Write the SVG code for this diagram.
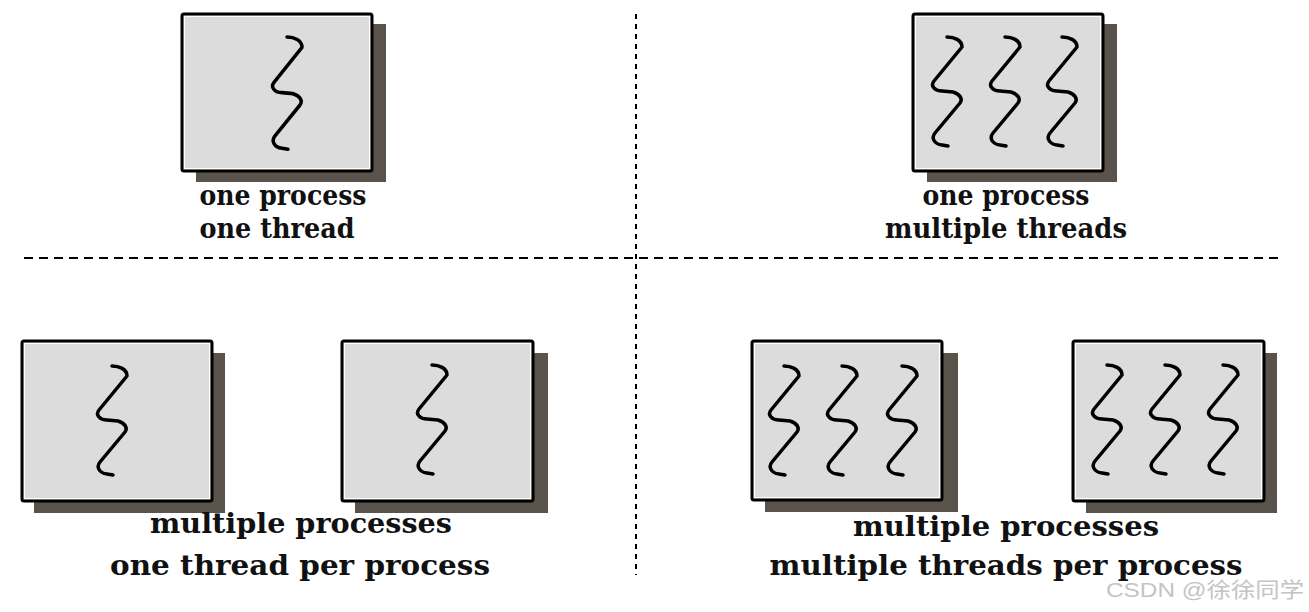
<svg xmlns="http://www.w3.org/2000/svg" xmlns:xlink="http://www.w3.org/1999/xlink" width="1309" height="612" viewBox="0 0 1309 612">
<style>
.shadow{fill:#5a534b}
.box{fill:#dcdcdc;stroke:#000;stroke-width:3}
.inner{fill:none;stroke:#fff;stroke-width:1}
.thr{fill:none;stroke:#000;stroke-width:3.5;stroke-linecap:round;stroke-linejoin:round}
.lbl{font-family:"DejaVu Serif","Liberation Serif",serif;font-weight:bold;font-size:27px;fill:#111}
.div{fill:none;stroke:#000;stroke-width:2}
.wm{font-family:"Liberation Sans","Noto Sans CJK SC",sans-serif;font-size:21px;fill:#c4c4c4}
</style>
<defs>
<path id="thread" class="thr" d="M0,0 C7,0 15,3 15,10 L-13,44 C-17,49 -12,54 -5,54 L6,55 C13,57 16,62 13,66 L-12,96 C-16,101 -13,107 -5,108 L1,109"/>
</defs>
<rect width="1309" height="612" fill="#fff"/>
<g id="dividers">
<line class="div" x1="24" y1="258" x2="1278" y2="258" stroke-dasharray="9 6"/>
<line class="div" x1="636" y1="14" x2="636" y2="575" stroke-dasharray="5 5"/>
</g>
<g id="p1">
<rect class="shadow" x="196" y="24" width="190" height="158"/>
<rect class="box" x="182" y="14" width="190" height="157" rx="2"/>
<rect class="inner" x="184.5" y="16.5" width="185" height="152"/>
<use xlink:href="#thread" transform="translate(287,37) scale(1,1.03)"/>
<text class="lbl" x="283" y="205" text-anchor="middle" textLength="167" lengthAdjust="spacingAndGlyphs">one process</text>
<text class="lbl" x="277" y="238" text-anchor="middle" textLength="155" lengthAdjust="spacingAndGlyphs">one thread</text>
</g>
<g id="p2">
<rect class="shadow" x="927" y="24" width="190" height="158"/>
<rect class="box" x="913" y="14" width="190" height="157" rx="2"/>
<rect class="inner" x="915.5" y="16.5" width="185" height="152"/>
<use xlink:href="#thread" transform="translate(947,37)"/>
<use xlink:href="#thread" transform="translate(1005,37)"/>
<use xlink:href="#thread" transform="translate(1062,37)"/>
<text class="lbl" x="1006" y="205" text-anchor="middle" textLength="167" lengthAdjust="spacingAndGlyphs">one process</text>
<text class="lbl" x="1006" y="238" text-anchor="middle" textLength="242" lengthAdjust="spacingAndGlyphs">multiple threads</text>
</g>
<g id="p3a">
<rect class="shadow" x="34" y="353" width="191" height="160"/>
<rect class="box" x="22" y="341" width="190" height="160" rx="2"/>
<rect class="inner" x="24.5" y="343.5" width="185" height="155"/>
<use xlink:href="#thread" transform="translate(112,366)"/>
</g>
<g id="p3b">
<rect class="shadow" x="355" y="353" width="193" height="160"/>
<rect class="box" x="342" y="341" width="191" height="160" rx="2"/>
<rect class="inner" x="344.5" y="343.5" width="186" height="155"/>
<use xlink:href="#thread" transform="translate(432,365)"/>
</g>
<g id="label3">
<text class="lbl" x="301" y="533" text-anchor="middle" textLength="302" lengthAdjust="spacingAndGlyphs">multiple processes</text>
<text class="lbl" x="300" y="575" text-anchor="middle" textLength="380" lengthAdjust="spacingAndGlyphs">one thread per process</text>
</g>
<g id="p4a">
<rect class="shadow" x="765" y="353" width="193" height="159"/>
<rect class="box" x="752" y="341" width="190" height="159" rx="2"/>
<rect class="inner" x="754.5" y="343.5" width="185" height="154"/>
<use xlink:href="#thread" transform="translate(784,366)"/>
<use xlink:href="#thread" transform="translate(842,366)"/>
<use xlink:href="#thread" transform="translate(902,366)"/>
</g>
<g id="p4b">
<rect class="shadow" x="1086" y="353" width="191" height="160"/>
<rect class="box" x="1073" y="341" width="191" height="160" rx="2"/>
<rect class="inner" x="1075.5" y="343.5" width="186" height="155"/>
<use xlink:href="#thread" transform="translate(1107,365)"/>
<use xlink:href="#thread" transform="translate(1165,365)"/>
<use xlink:href="#thread" transform="translate(1223,365)"/>
</g>
<g id="label4">
<text class="lbl" x="1006" y="536" text-anchor="middle" textLength="306" lengthAdjust="spacingAndGlyphs">multiple processes</text>
<text class="lbl" x="1006" y="575" text-anchor="middle" textLength="473" lengthAdjust="spacingAndGlyphs">multiple threads per process</text>
</g>
<text class="wm" x="1106" y="597" textLength="198" lengthAdjust="spacingAndGlyphs">CSDN @徐徐同学</text>
</svg>
